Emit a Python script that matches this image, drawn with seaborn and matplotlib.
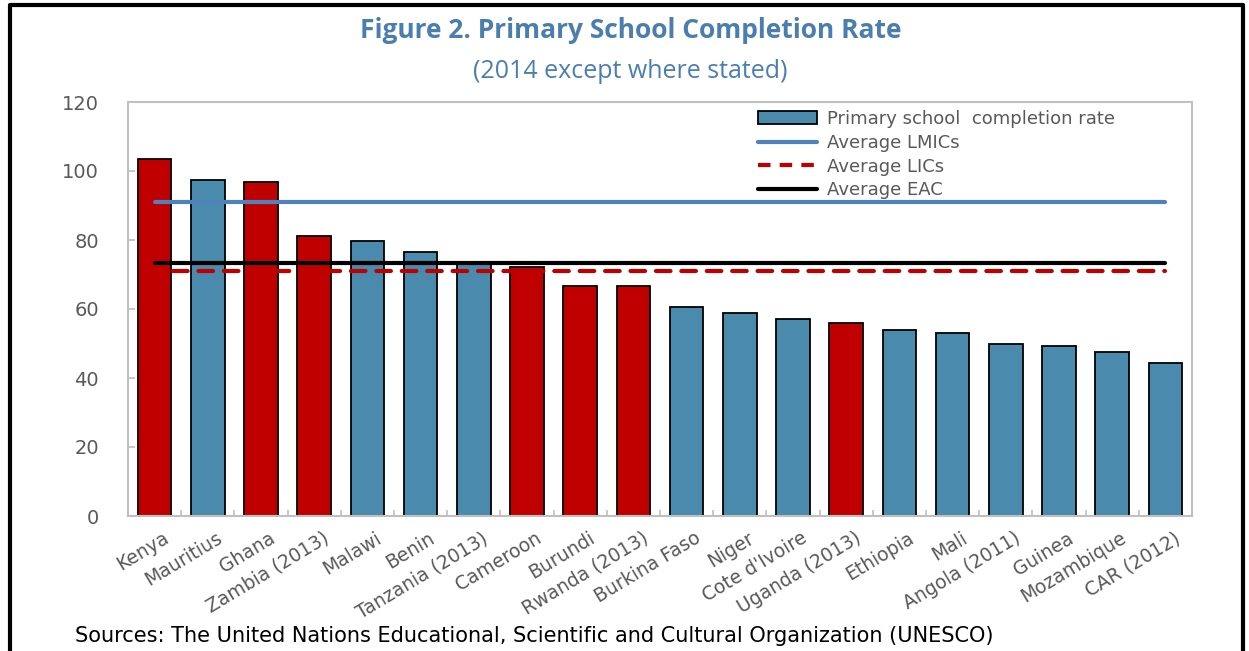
import numpy as np
import pandas as pd
import matplotlib
matplotlib.use('Agg')
import matplotlib.pyplot as plt
import matplotlib.transforms as mtransforms
from matplotlib.patches import Patch
from matplotlib.lines import Line2D
import seaborn as sns

countries = ['Kenya', 'Mauritius', 'Ghana', 'Zambia (2013)', 'Malawi', 'Benin',
             'Tanzania (2013)', 'Cameroon', 'Burundi', 'Rwanda (2013)', 'Burkina Faso',
             'Niger', "Cote d'Ivoire", 'Uganda (2013)', 'Ethiopia', 'Mali',
             'Angola (2011)', 'Guinea', 'Mozambique', 'CAR (2012)']
completion = [103.6, 97.4, 96.7, 81.2, 79.6, 76.6, 73.4, 72.2, 66.7, 66.7, 60.6,
              58.8, 57.1, 55.9, 53.8, 53.0, 49.8, 49.4, 47.5, 44.4]
highlight = [True, False, True, True, False, False, False, True, True, True, False,
             False, False, True, False, False, False, False, False, False]
avg_lmics = 91.0
avg_lics = 71.0
avg_eac = 73.2

RED = '#C00000'
BLUE = '#4A8AAD'
LINE_BLUE = '#4F81BD'
GREY = '#595959'
SPINE = '#BFBFBF'

df = pd.DataFrame({'country': countries, 'rate': completion,
                   'group': ['red' if h else 'blue' for h in highlight]})

sns.set_style('white')
plt.rcParams['font.family'] = ['DejaVu Sans']

fig = plt.figure(figsize=(12.49, 6.51), dpi=100)
ax = fig.add_axes([128 / 1249, 135 / 651, 1064 / 1249, 414 / 651])

sns.barplot(data=df, x='country', y='rate', hue='group',
            palette={'red': RED, 'blue': BLUE}, dodge=False, width=0.63,
            edgecolor='black', linewidth=1.3, saturation=1, legend=False, ax=ax)

n = len(countries)
ax.plot([0, n - 1], [avg_lmics] * 2, color=LINE_BLUE, lw=3, solid_capstyle='round')
ax.plot([0, n - 1], [avg_eac] * 2, color='black', lw=3, solid_capstyle='round')
ax.plot([0.35, n - 1], [avg_lics] * 2, color=RED, lw=3, ls=(0, (3.5, 2.6)),
        dash_capstyle='round')

ax.set_xlim(-0.5, n - 0.5)
ax.set_ylim(0, 120)
ax.set_yticks(range(0, 121, 20))
ax.set_xlabel('')
ax.set_ylabel('')
for s in ax.spines.values():
    s.set_color(SPINE)
    s.set_linewidth(1.5)
ax.tick_params(axis='y', which='major', direction='in', length=5, width=1.2, color=SPINE,
               labelcolor=GREY, labelsize=14, pad=21, left=True)
ax.set_xticks(range(n))
ax.set_xticklabels(countries, rotation=31, ha='right', rotation_mode='anchor')
ax.tick_params(axis='x', which='major', length=0, labelcolor=GREY, labelsize=13.5, pad=9)
shift = mtransforms.ScaledTranslation(8 / 100, 0, fig.dpi_scale_trans)
for lbl in ax.get_xticklabels():
    lbl.set_transform(lbl.get_transform() + shift)
ax.set_xticks(np.arange(-0.5, n, 1), minor=True)
ax.tick_params(axis='x', which='minor', direction='in', length=4, width=1.2,
               color=SPINE, bottom=True)

handles = [Patch(facecolor=BLUE, edgecolor='black', linewidth=1.3),
           Line2D([], [], color=LINE_BLUE, lw=3),
           Line2D([], [], color=RED, lw=3, ls=(0, (3, 2.2))),
           Line2D([], [], color='black', lw=3)]
labels = ['Primary school  completion rate', 'Average LMICs', 'Average LICs', 'Average EAC']
leg = ax.legend(handles, labels, loc='upper left', bbox_to_anchor=(0.585, 0.998),
                frameon=False, fontsize=13, labelspacing=0.32, handlelength=3.3,
                handletextpad=0.55, borderaxespad=0)
for t in leg.get_texts():
    t.set_color(GREY)

fig.text(0.505, 0.953, 'Figure 2. Primary School Completion Rate', ha='center', va='center',
         fontsize=19, fontweight='bold', color='#4A7EAF', family='Open Sans')
fig.text(0.505, 0.89, '(2014 except where stated)', ha='center', va='center',
         fontsize=18, color='#4A7EAF', family='Open Sans')
fig.text(75 / 1249, 1 - 636 / 651, 'Sources: The United Nations Educational, Scientific and Cultural Organization (UNESCO)',
         ha='left', va='center', fontsize=15, color='black')

# outer frame (left, top, right)
fig.add_artist(Line2D([10 / 1249, 10 / 1249, 1243 / 1249, 1243 / 1249],
                      [0, 1 - 5 / 651, 1 - 5 / 651, 0],
                      transform=fig.transFigure, color='black', lw=3))

fig.savefig('out.png', dpi=100)
